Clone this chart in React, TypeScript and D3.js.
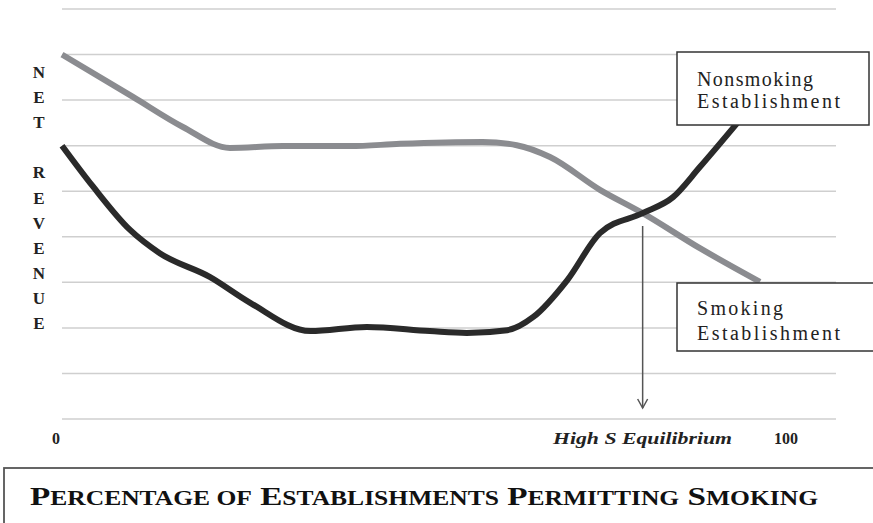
import * as d3 from "d3";

// percentage of establishments permitting smoking (x) vs net revenue (y, gridline units)
const nonsmokingPct = [0, 4.3, 9.4, 13.5, 20.4, 26, 34.3, 42.1, 50.8, 55.9, 61.5, 65.1, 69.8, 74.3, 80.2, 84.4, 88.1, 93.6];
const nonsmokingRev = [6.0, 5.1, 4.15, 3.64, 3.12, 2.55, 1.93, 2.02, 1.93, 1.89, 1.95, 2.24, 3.05, 4.08, 4.52, 4.87, 5.53, 6.56];
const smokingPct = [0, 9.8, 16.7, 23.2, 30.5, 39.8, 46.7, 58.1, 62.8, 67.4, 74.3, 80.2, 88.1, 96.4];
const smokingRev = [8.0, 7.07, 6.41, 5.95, 5.99, 5.99, 6.04, 6.08, 6.01, 5.75, 5.03, 4.52, 3.75, 3.01];
const gridLevels = [0, 1, 2, 3, 4, 5, 6, 7, 8, 9];
const yLetters = ["N", "E", "T", "", "R", "E", "V", "E", "N", "U", "E"];
const equilibriumPct = 80.2;
const titleWords = ["Percentage", "of", "Establishments", "Permitting", "Smoking"];

const width = 873;
const height = 523;
const plotRight = 836;
const serif = "'Liberation Serif', 'Times New Roman', serif";

export default function App() {
  const x = d3.scaleLinear().domain([0, 100]).range([62, 786]);
  const y = d3.scaleLinear().domain([0, 9]).range([419, 9]);

  const pathLine = d3
    .line<[number, number]>()
    .curve(d3.curveMonotoneX)
    .x(([p]) => x(p))
    .y(([, r]) => y(r));

  const nonsmokingPath = pathLine(nonsmokingPct.map((p, i) => [p, nonsmokingRev[i]])) ?? "";
  const smokingPath = pathLine(smokingPct.map((p, i) => [p, smokingRev[i]])) ?? "";
  const eqX = x(equilibriumPct);

  return (
    <svg
      width={width}
      height={height}
      viewBox={`0 0 ${width} ${height}`}
      style={{ position: "absolute", left: 0, top: 0, background: "#fff" }}
    >
      {gridLevels.map((level) => (
        <line
          key={level}
          x1={x(0)}
          x2={plotRight}
          y1={y(level)}
          y2={y(level)}
          stroke="#cfcfcf"
          strokeWidth={1.5}
        />
      ))}

      {yLetters.map((letter, i) => (
        <text
          key={i}
          x={39}
          y={78 + i * 25.1}
          textAnchor="middle"
          fontFamily={serif}
          fontWeight="bold"
          fontSize={17}
          fill="#222"
        >
          {letter}
        </text>
      ))}

      <path d={smokingPath} fill="none" stroke="#8b8c90" strokeWidth={6} strokeLinecap="butt" />
      <path d={nonsmokingPath} fill="none" stroke="#2a2a2a" strokeWidth={6} strokeLinecap="butt" />

      <line x1={eqX} x2={eqX} y1={226} y2={408} stroke="#555" strokeWidth={1.5} />
      <polyline
        points={`${eqX - 5},${399} ${eqX},${408} ${eqX + 5},${399}`}
        fill="none"
        stroke="#555"
        strokeWidth={1.5}
      />

      <g fontFamily={serif} fontSize={20} fill="#222" lengthAdjust="spacingAndGlyphs">
        <rect x={677} y={52} width={192} height={73} fill="#fff" stroke="#333" strokeWidth={1.5} />
        <text x={697} y={86} textLength={116}>Nonsmoking</text>
        <text x={697} y={108} textLength={143}>Establishment</text>
        <rect x={677} y={283} width={200} height={68} fill="#fff" stroke="#333" strokeWidth={1.5} />
        <text x={697} y={315} textLength={86}>Smoking</text>
        <text x={697} y={340} textLength={143}>Establishment</text>
      </g>

      <g fontFamily={serif} fontWeight="bold" fontSize={16} fill="#222">
        <text x={60} y={444} textAnchor="end">0</text>
        <text x={x(100)} y={444} textAnchor="middle">100</text>
        <text x={553} y={444} fontStyle="italic" textLength={179} lengthAdjust="spacingAndGlyphs">
          High S Equilibrium
        </text>
      </g>

      <rect x={4} y={468} width={880} height={70} fill="none" stroke="#555" strokeWidth={1.8} />
      <text
        x={30}
        y={505}
        fontFamily={serif}
        fontWeight="bold"
        fill="#111"
        textLength={788}
        lengthAdjust="spacingAndGlyphs"
      >
        {titleWords.map((word, i) => {
          const lead = i > 0 ? " " : "";
          const capital = word[0] === word[0].toUpperCase();
          return (
            <tspan key={i}>
              {capital ? <tspan fontSize={26}>{lead + word[0]}</tspan> : null}
              <tspan fontSize={20}>{(capital ? word.slice(1) : lead + word).toUpperCase()}</tspan>
            </tspan>
          );
        })}
      </text>
    </svg>
  );
}
